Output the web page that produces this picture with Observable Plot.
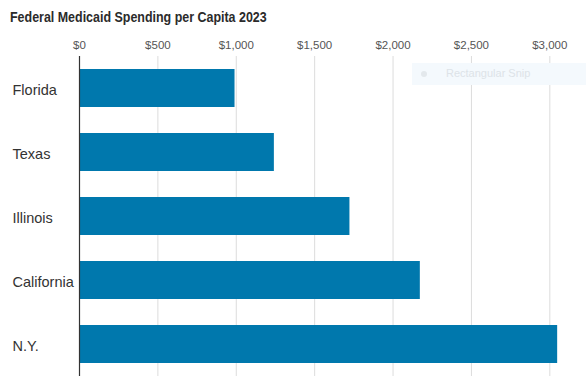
<!DOCTYPE html>
<html>
<head>
<meta charset="utf-8">
<script src="https://cdn.jsdelivr.net/npm/d3@7"></script>
<script src="https://cdn.jsdelivr.net/npm/@observablehq/plot@0.6"></script>
<style>
  html, body { margin: 0; padding: 0; background: #fff; }
  #wrap { position: relative; width: 586px; height: 380px; overflow: hidden; }
  #title { position: absolute; left: 10px; top: 8px; font-family: "Liberation Sans", sans-serif; font-weight: bold; font-size: 15px; color: #2b2b2b; white-space: nowrap; transform: scaleX(0.83); transform-origin: left top; }
  #chart { position: absolute; left: 0; top: 30px; }
  #snip { position: absolute; left: 412px; top: 63px; width: 174px; height: 22px; background: #f4f9fd; font-family: "Liberation Sans", sans-serif; font-size: 11px; color: #dde3e8; }
  #snip .dot { position: absolute; left: 9px; top: 8px; width: 6px; height: 6px; border-radius: 3px; background: #e3e8ec; }
  #snip .lbl { position: absolute; left: 34px; top: 4px; }
</style>
</head>
<body>
<div id="wrap">
  <div id="title">Federal Medicaid Spending per Capita 2023</div>
  <div id="chart"></div>
  <div id="snip"><span class="dot"></span><span class="lbl">Rectangular Snip</span></div>
</div>
<script>
const states = ["Florida", "Texas", "Illinois", "California", "N.Y."];
const spending = [992, 1243, 1725, 2174, 3050];
const xTicks = [0, 500, 1000, 1500, 2000, 2500, 3000];
const xTickLabels = ["$0", "$500", "$1,000", "$1,500", "$2,000", "$2,500", "$3,000"];

const data = states.map((s, i) => ({state: s, value: spending[i]}));

const chart = Plot.plot({
  width: 586,
  height: 350,
  marginLeft: 79,
  marginRight: 21,
  marginTop: 26,
  marginBottom: 4,
  style: {fontFamily: "Liberation Sans, sans-serif", background: "transparent"},
  x: {domain: [0, 3100], ticks: xTicks},
  y: {domain: states, paddingInner: 0.4, paddingOuter: 0.2},
  marks: [
    Plot.gridX(xTicks, {stroke: "#dcdcdc", strokeOpacity: 1, strokeWidth: 1}),
    Plot.axisX(xTicks, {
      anchor: "top", tickSize: 0, tickPadding: 8, label: null,
      tickFormat: (d) => xTickLabels[xTicks.indexOf(d)],
      fontSize: 11.5, fill: "#555"
    }),
    Plot.barX(data, {x: "value", y: "state", fill: "#0078ad"}),
    Plot.ruleX([0], {stroke: "#333", strokeWidth: 1.2}),
    Plot.axisY({
      tickSize: 0, label: null, textAnchor: "start", dx: -58, dy: 2,
      fontSize: 14.5, fill: "#333"
    })
  ]
});
document.getElementById("chart").appendChild(chart);
</script>
</body>
</html>
